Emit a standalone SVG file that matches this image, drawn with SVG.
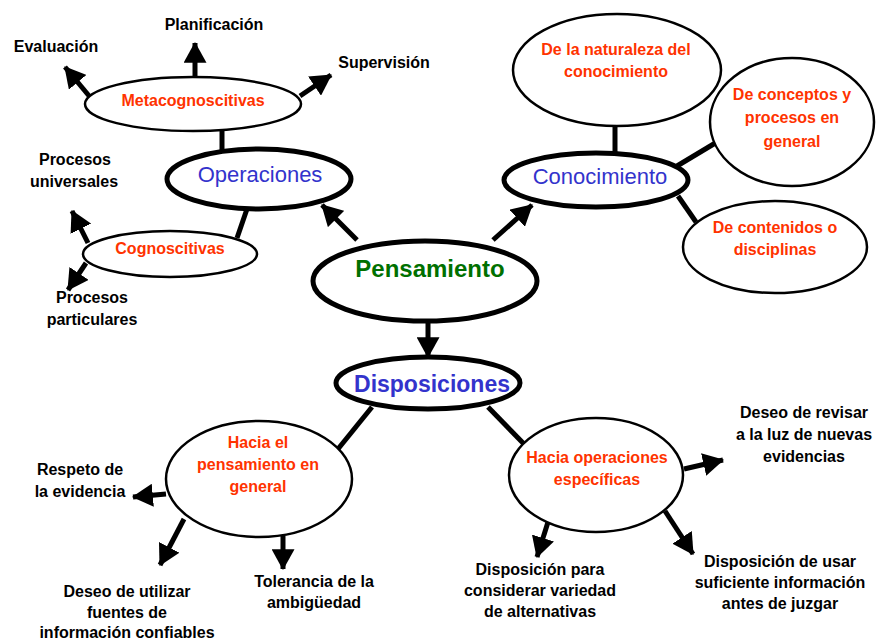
<svg xmlns="http://www.w3.org/2000/svg" width="880" height="643" viewBox="0 0 880 643">
<style>
text{font-family:"Liberation Sans",Arial,sans-serif;text-anchor:middle}
.lbl{font-size:16px;font-weight:bold;fill:#000}
.sub{font-size:16px;font-weight:bold;fill:#ff3300}
.main{fill:#fff;stroke:#000;stroke-width:5}
.thin{fill:#fff;stroke:#000;stroke-width:2.5}
.con{stroke:#000;stroke-width:5;fill:none}
.arr{stroke:#000;stroke-width:5;fill:none;marker-end:url(#ah)}
</style>
<defs>
<marker id="ah" viewBox="0 0 20 22" refX="19" refY="11" markerWidth="21" markerHeight="23" markerUnits="userSpaceOnUse" orient="auto">
<path d="M0,0 L20,11 L0,22 z" fill="#000"/>
</marker>
</defs>
<rect width="880" height="643" fill="#fff"/>
<g id="connectors">
<line class="arr" x1="357" y1="240" x2="322" y2="205"/>
<line class="arr" x1="493" y1="240" x2="532" y2="205"/>
<line class="arr" x1="428" y1="320" x2="428" y2="357"/>
<line class="con" x1="222" y1="128" x2="222" y2="150"/>
<line class="con" x1="247" y1="209" x2="237" y2="238"/>
<line class="arr" x1="195" y1="78" x2="195" y2="43"/>
<line class="arr" x1="90" y1="97" x2="65" y2="67"/>
<line class="arr" x1="300" y1="96" x2="331" y2="75"/>
<line class="arr" x1="88" y1="243" x2="72" y2="211"/>
<line class="arr" x1="86" y1="263" x2="68" y2="290"/>
<line class="con" x1="615" y1="125" x2="615" y2="155"/>
<line class="con" x1="677" y1="166" x2="717" y2="142"/>
<line class="con" x1="678" y1="196" x2="696" y2="222"/>
<line class="con" x1="372" y1="407" x2="338" y2="449"/>
<line class="con" x1="488" y1="407" x2="524" y2="444"/>
<line class="arr" x1="166" y1="494" x2="133" y2="497"/>
<line class="arr" x1="184" y1="519" x2="160" y2="565"/>
<line class="arr" x1="283" y1="536" x2="283" y2="569"/>
<line class="arr" x1="684" y1="469" x2="723" y2="460"/>
<line class="arr" x1="548" y1="522" x2="537" y2="557"/>
<line class="arr" x1="665" y1="511" x2="693" y2="554"/>
</g>
<g id="pensamiento">
<ellipse class="main" cx="425" cy="281" rx="112" ry="40"/>
<text x="430" y="277" style="font-size:24px;font-weight:bold;fill:#007000">Pensamiento</text>
</g>
<g id="operaciones">
<ellipse class="main" cx="259" cy="179" rx="92" ry="30"/>
<text x="260" y="182" style="font-size:22px;fill:#3333cc">Operaciones</text>
</g>
<g id="conocimiento">
<ellipse class="main" cx="596" cy="180" rx="92" ry="27"/>
<text x="600" y="184" style="font-size:22px;fill:#3333cc">Conocimiento</text>
</g>
<g id="disposiciones">
<ellipse class="main" cx="428" cy="383" rx="92" ry="26"/>
<text x="432" y="392" style="font-size:23px;font-weight:bold;fill:#3333cc">Disposiciones</text>
</g>
<g id="metacognoscitivas">
<ellipse class="thin" cx="193" cy="104" rx="108" ry="27"/>
<text class="sub" x="193" y="106">Metacognoscitivas</text>
</g>
<g id="cognoscitivas">
<ellipse class="thin" cx="170" cy="254" rx="87" ry="23"/>
<text class="sub" x="170" y="254">Cognoscitivas</text>
</g>
<g id="naturaleza">
<ellipse class="thin" cx="617" cy="70" rx="104" ry="56"/>
<text class="sub" x="616" y="55">De la naturaleza del</text>
<text class="sub" x="616" y="77">conocimiento</text>
</g>
<g id="conceptos">
<ellipse class="thin" cx="792" cy="122" rx="82" ry="64"/>
<text class="sub" x="792" y="100">De conceptos y</text>
<text class="sub" x="792" y="123">procesos en</text>
<text class="sub" x="792" y="147">general</text>
</g>
<g id="contenidos">
<ellipse class="thin" cx="775" cy="247" rx="92" ry="46"/>
<text class="sub" x="775" y="233">De contenidos o</text>
<text class="sub" x="775" y="255">disciplinas</text>
</g>
<g id="hacia-pensamiento">
<ellipse class="thin" cx="259" cy="479" rx="93" ry="58"/>
<text class="sub" x="258" y="448">Hacia el</text>
<text class="sub" x="258" y="470">pensamiento en</text>
<text class="sub" x="258" y="492">general</text>
</g>
<g id="hacia-operaciones">
<ellipse class="thin" cx="596" cy="475" rx="87" ry="57"/>
<text class="sub" x="597" y="463">Hacia operaciones</text>
<text class="sub" x="597" y="485">específicas</text>
</g>
<g id="planificacion"><text class="lbl" x="214" y="30">Planificación</text></g>
<g id="evaluacion"><text class="lbl" x="56" y="52">Evaluación</text></g>
<g id="supervision"><text class="lbl" x="384" y="68">Supervisión</text></g>
<g id="universales">
<text class="lbl" x="75" y="165">Procesos</text>
<text class="lbl" x="74" y="187">universales</text>
</g>
<g id="particulares">
<text class="lbl" x="92" y="303">Procesos</text>
<text class="lbl" x="92" y="325">particulares</text>
</g>
<g id="respeto">
<text class="lbl" x="80" y="475">Respeto de</text>
<text class="lbl" x="80" y="497">la evidencia</text>
</g>
<g id="fuentes">
<text class="lbl" x="127" y="597">Deseo de utilizar</text>
<text class="lbl" x="127" y="618">fuentes de</text>
<text class="lbl" x="127" y="638">información confiables</text>
</g>
<g id="tolerancia">
<text class="lbl" x="314" y="587">Tolerancia de la</text>
<text class="lbl" x="314" y="608">ambigüedad</text>
</g>
<g id="revisar">
<text class="lbl" x="804" y="418">Deseo de revisar</text>
<text class="lbl" x="804" y="440">a la luz de nuevas</text>
<text class="lbl" x="804" y="462">evidencias</text>
</g>
<g id="variedad">
<text class="lbl" x="540" y="575">Disposición para</text>
<text class="lbl" x="540" y="596">considerar variedad</text>
<text class="lbl" x="540" y="617">de alternativas</text>
</g>
<g id="usar">
<text class="lbl" x="780" y="567">Disposición de usar</text>
<text class="lbl" x="780" y="588">suficiente información</text>
<text class="lbl" x="780" y="609">antes de juzgar</text>
</g>
</svg>
